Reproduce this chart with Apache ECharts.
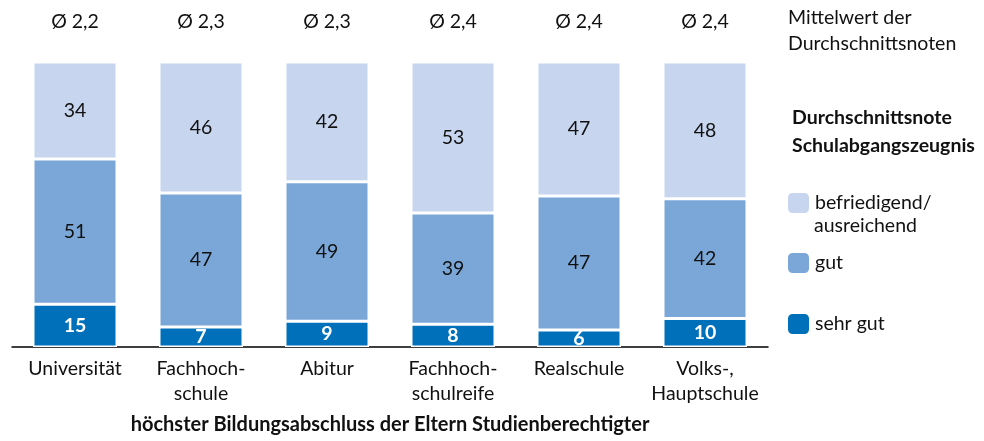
<!DOCTYPE html>
<html>
<head>
<meta charset="utf-8">
<script src="https://cdn.jsdelivr.net/npm/echarts@6/dist/echarts.min.js"></script>
<style>
  html, body { margin: 0; padding: 0; background: #fff; }
  #chart { width: 984px; height: 441px; }
</style>
</head>
<body>
<div id="chart"></div>
<script>
// Kategorien (höchster Bildungsabschluss der Eltern)
const categories = ["Universität", "Fachhoch-\nschule", "Abitur", "Fachhoch-\nschulreife", "Realschule", "Volks-,\nHauptschule"];
// Mittelwert der Durchschnittsnoten
const averages = ["Ø 2,2", "Ø 2,3", "Ø 2,3", "Ø 2,4", "Ø 2,4", "Ø 2,4"];
// Anteile in %
const sehrGut = [15, 7, 9, 8, 6, 10];
const gut = [51, 47, 49, 39, 47, 42];
const befriedigend = [34, 46, 42, 53, 47, 48];

const FONT = "Lato, 'Open Sans', sans-serif";
const FS = 19.5;

const chart = echarts.init(document.getElementById("chart"));

const segLabel = (color, bold) => ({
  show: true,
  position: "inside",
  color: color,
  fontSize: FS,
  fontWeight: bold ? "bold" : "normal",
  fontFamily: FONT,
});

const legendItem = (name, top) => ({
  data: [name],
  left: 786,
  top: top,
  padding: 0,
  itemWidth: 23,
  itemHeight: 22,
  textStyle: { fontSize: FS, color: "#111", fontFamily: FONT },
  selectedMode: false,
});

const option = {
  animation: false,
  textStyle: { fontFamily: FONT },
  grid: { left: 12, right: 216, top: 62, bottom: 94 },
  xAxis: [
    {
      type: "category",
      data: categories,
      axisLine: { lineStyle: { color: "#000", width: 1.5 } },
      axisTick: { show: false },
      axisLabel: {
        color: "#111",
        fontSize: FS,
        fontFamily: FONT,
        lineHeight: 25,
        margin: 9,
        interval: 0,
      },
    },
    {
      type: "category",
      position: "top",
      data: averages,
      axisLine: { show: false },
      axisTick: { show: false },
      axisLabel: {
        color: "#111",
        fontSize: FS,
        fontFamily: FONT,
        margin: 30,
        interval: 0,
      },
    },
  ],
  yAxis: {
    type: "value",
    min: 0,
    max: 100,
    show: false,
  },
  legend: [
    Object.assign(legendItem("befriedigend / ausreichend", 191), {
      formatter: () => "befriedigend/",
    }),
    legendItem("gut", 251),
    legendItem("sehr gut", 312),
  ],
  graphic: [
    {
      type: "text",
      left: 788,
      top: 5,
      style: {
        text: "Mittelwert der\nDurchschnittsnoten",
        fontSize: FS,
        lineHeight: 26,
        fill: "#111",
        fontFamily: FONT,
      },
    },
    {
      type: "text",
      left: 792,
      top: 104,
      style: {
        text: "Durchschnittsnote\nSchulabgangszeugnis",
        fontSize: FS,
        fontWeight: "bold",
        lineHeight: 28,
        fill: "#111",
        fontFamily: FONT,
      },
    },
    {
      type: "text",
      left: 814,
      top: 216,
      style: {
        text: "ausreichend",
        fontSize: FS,
        fill: "#111",
        fontFamily: FONT,
      },
    },
    {
      type: "text",
      x: 390,
      y: 425,
      style: {
        text: "höchster Bildungsabschluss der Eltern Studienberechtigter",
        fontSize: 20,
        fontWeight: "bold",
        fill: "#111",
        fontFamily: FONT,
        align: "center",
        verticalAlign: "middle",
      },
    },
  ],
  series: [
    {
      name: "sehr gut",
      type: "bar",
      stack: "total",
      barWidth: 84,
      data: sehrGut,
      itemStyle: { color: "#0070BA", borderColor: "#fff", borderWidth: 1.5 },
      label: segLabel("#fff", true),
    },
    {
      name: "gut",
      type: "bar",
      stack: "total",
      barWidth: 84,
      data: gut,
      itemStyle: { color: "#7BA7D8", borderColor: "#fff", borderWidth: 1.5 },
      label: segLabel("#111", false),
    },
    {
      name: "befriedigend / ausreichend",
      type: "bar",
      stack: "total",
      barWidth: 84,
      data: befriedigend,
      itemStyle: { color: "#C7D5EE", borderColor: "#fff", borderWidth: 1.5 },
      label: segLabel("#111", false),
    },
  ],
};

chart.setOption(option);
</script>
</body>
</html>
